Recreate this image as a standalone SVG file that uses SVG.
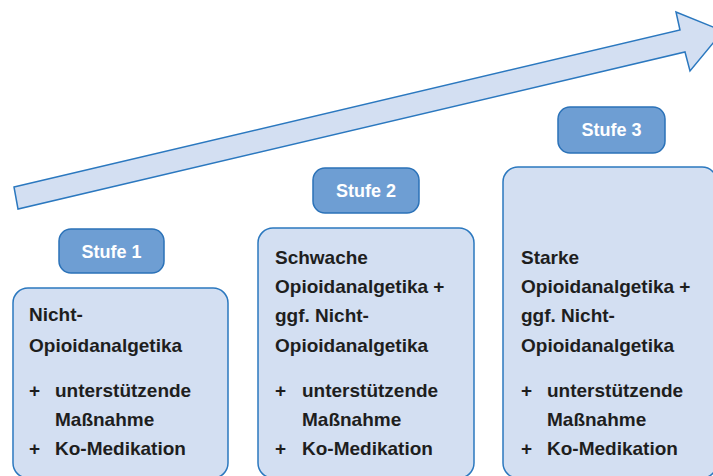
<svg xmlns="http://www.w3.org/2000/svg" width="713" height="476" viewBox="0 0 713 476">
<style>
.box{fill:#d3dff2;stroke:#2b78bf;stroke-width:1.5}
.lab{fill:#6e9ed3;stroke:#2b72b8;stroke-width:1.5}
.lt{font-family:"Liberation Sans",Arial,sans-serif;font-weight:bold;font-size:18px;fill:#ffffff;text-anchor:middle}
.t{font-family:"Liberation Sans",Arial,sans-serif;font-weight:bold;font-size:19px;fill:#1e1e1e}
</style>
<rect width="713" height="476" fill="#ffffff"/>
<g id="arrow">
<polygon class="box" points="14,187 680,30 676,12 723,31 690,71 685,52 18,209"/>
</g>
<g id="stufe1">
<rect class="lab" x="59" y="229" width="105" height="44" rx="12"/>
<text class="lt" x="111.5" y="257.5">Stufe 1</text>
</g>
<g id="box1">
<rect class="box" x="13" y="288" width="215" height="190" rx="15"/>
<text class="t" x="29" y="321">Nicht-</text>
<text class="t" x="29" y="352">Opioidanalgetika</text>
<text class="t" x="29" y="397">+</text>
<text class="t" x="55" y="397">unterstützende</text>
<text class="t" x="55" y="426">Maßnahme</text>
<text class="t" x="29" y="455">+</text>
<text class="t" x="55" y="455">Ko-Medikation</text>
</g>
<g id="stufe2">
<rect class="lab" x="313" y="168" width="106" height="45" rx="12"/>
<text class="lt" x="366" y="196.5">Stufe 2</text>
</g>
<g id="box2">
<rect class="box" x="258" y="228" width="216" height="250" rx="15"/>
<text class="t" x="275" y="264">Schwache</text>
<text class="t" x="275" y="293">Opioidanalgetika +</text>
<text class="t" x="275" y="322">ggf. Nicht-</text>
<text class="t" x="275" y="352">Opioidanalgetika</text>
<text class="t" x="275" y="397">+</text>
<text class="t" x="302" y="397">unterstützende</text>
<text class="t" x="302" y="426">Maßnahme</text>
<text class="t" x="275" y="455">+</text>
<text class="t" x="302" y="455">Ko-Medikation</text>
</g>
<g id="stufe3">
<rect class="lab" x="558" y="107" width="107" height="46" rx="12"/>
<text class="lt" x="611.5" y="136">Stufe 3</text>
</g>
<g id="box3">
<rect class="box" x="503" y="167" width="214" height="311" rx="15"/>
<text class="t" x="521" y="264">Starke</text>
<text class="t" x="521" y="293">Opioidanalgetika +</text>
<text class="t" x="521" y="322">ggf. Nicht-</text>
<text class="t" x="521" y="352">Opioidanalgetika</text>
<text class="t" x="521" y="397">+</text>
<text class="t" x="547" y="397">unterstützende</text>
<text class="t" x="547" y="426">Maßnahme</text>
<text class="t" x="521" y="455">+</text>
<text class="t" x="547" y="455">Ko-Medikation</text>
</g>
</svg>
